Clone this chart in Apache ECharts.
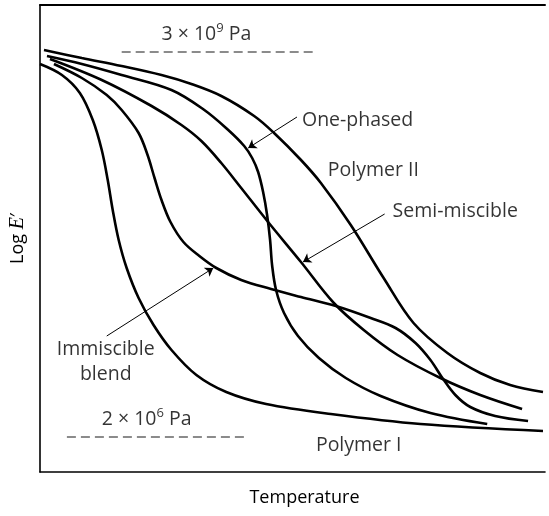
<!DOCTYPE html>
<html><head><meta charset="utf-8">
<script src="https://cdn.jsdelivr.net/npm/echarts@6/dist/echarts.min.js"></script>
<style>html,body{margin:0;padding:0;background:#fff}#c{width:549px;height:516px}</style>
</head><body><div id="c"></div>
<script>
// x: temperature (arbitrary units), y: log E' (arbitrary units)
const polymerI = [[0,408],[22,397],[40,379],[53,352],[62,322],[68,292],[73,262],[79,232],[87,204],[99,174],[114,147],[132,122],[157,97],[187,80],[227,68],[292,58],[382,48],[505,41]];
const immiscible = [[14,408],[42,394],[67,377],[82,362],[99,339],[108,317],[115,294],[122,272],[131,250],[144,230],[160,216],[177,204],[202,192],[232,183],[262,175],[297,166],[332,154],[357,144],[377,129],[392,112],[404,94],[417,77],[432,65],[457,56],[490,51]];
const onePhased = [[7,416],[42,408],[82,397],[132,382],[165,362],[189,342],[205,326],[213,314],[219,300],[224,280],[228,257],[231,232],[233,207],[237,182],[245,159],[259,136],[280,114],[307,94],[342,76],[392,59],[449,48]];
const semiMiscible = [[10,413],[62,392],[112,366],[142,347],[162,331],[182,309],[202,284],[229,250],[262,210],[295,169],[325,142],[359,117],[402,94],[442,77],[484,63]];
const polymerII = [[4,422],[42,414],[82,406],[122,397],[152,388],[182,376],[215,356],[235,339],[262,312],[282,289],[312,247],[345,194],[375,149],[409,119],[442,99],[472,87],[505,80]];

const refHigh = [[82,420],[277,420]];   // 3 x 10^9 Pa
const refLow = [[27,35],[207,35]];      // 2 x 10^6 Pa

const labels = [
  {name:'One-phased', value:[263,352], align:'left'},
  {name:'Polymer II', value:[289,302], align:'left'},
  {name:'Semi-miscible', value:[354,261], align:'left'},
  {name:'Immiscible\nblend', value:[66,110], align:'center'},
  {name:'{n|3 × 10}{s|9}{n| Pa}', value:[122,438], align:'left'},
  {name:'{n|2 × 10}{s|6}{n| Pa}', value:[62,53], align:'left'},
  {name:'Polymer I', value:[277,27], align:'left'}
];
const arrows = [
  [[258,355],[209,324]],
  [[346,258],[264,210]],
  [[67,136],[174,204]]
];

const FONT = 'Open Sans';
const chart = echarts.init(document.getElementById('c'));
function curve(name, data){
  return {type:'line', name, data, smooth:0.35, symbol:'none',
    lineStyle:{color:'#000', width:2.6}, silent:true, z:3};
}
function dashed(data){
  return {type:'line', data, symbol:'none', lineStyle:{color:'#666', width:1.4, type:[9,5]}, silent:true};
}
chart.setOption({
  animation:false,
  grid:{left:38, right:4, top:5, bottom:44},
  xAxis:[{type:'value', min:0, max:507, position:'bottom',
    name:'Temperature', nameLocation:'middle', nameGap:17,
    nameTextStyle:{fontFamily:FONT, fontSize:18, color:'#000', padding:[0,0,0,24]},
    axisLine:{lineStyle:{color:'#000', width:1.6}}, axisTick:{show:false}, axisLabel:{show:false}, splitLine:{show:false}},
    {type:'value', min:0, max:507, position:'top',
    axisLine:{show:true, lineStyle:{color:'#000', width:2}}, axisTick:{show:false}, axisLabel:{show:false}, splitLine:{show:false}}],
  yAxis:{type:'value', min:0, max:467,
    name:'{n|Log }{e|E}{n|′}', nameLocation:'middle', nameGap:12, nameRotate:90,
    nameTextStyle:{rich:{n:{fontFamily:FONT, fontSize:18, color:'#000'}, e:{fontFamily:'Liberation Serif', fontStyle:'italic', fontSize:20, color:'#000'}}},
    axisLine:{show:true, onZero:false, lineStyle:{color:'#000', width:1.6}}, axisTick:{show:false}, axisLabel:{show:false}, splitLine:{show:false}},
  series:[
    curve('Polymer I', polymerI),
    curve('Immiscible blend', immiscible),
    curve('One-phased', onePhased),
    curve('Semi-miscible', semiMiscible),
    curve('Polymer II', polymerII),
    dashed(refHigh),
    dashed(refLow),
    {type:'lines', coordinateSystem:'cartesian2d', silent:true,
      data: arrows.map(a => ({coords:a})),
      symbol:['none','arrow'], symbolSize:[0,8],
      lineStyle:{color:'#000', width:1, opacity:1}},
    {type:'scatter', symbolSize:0, silent:true,
      data: labels.map(l => ({name:l.name, value:l.value,
        label:{align:l.align}})),
      label:{show:true, position:[0,0], formatter:p=>p.name, verticalAlign:'middle',
        fontFamily:FONT, fontSize:19.5, color:'#000', lineHeight:25,
        rich:{n:{fontFamily:FONT, fontSize:19.5, color:'#000'}, s:{fontFamily:FONT, fontSize:13, color:'#000', padding:[0,0,12,0]}}}}
  ]
});
</script></body></html>
